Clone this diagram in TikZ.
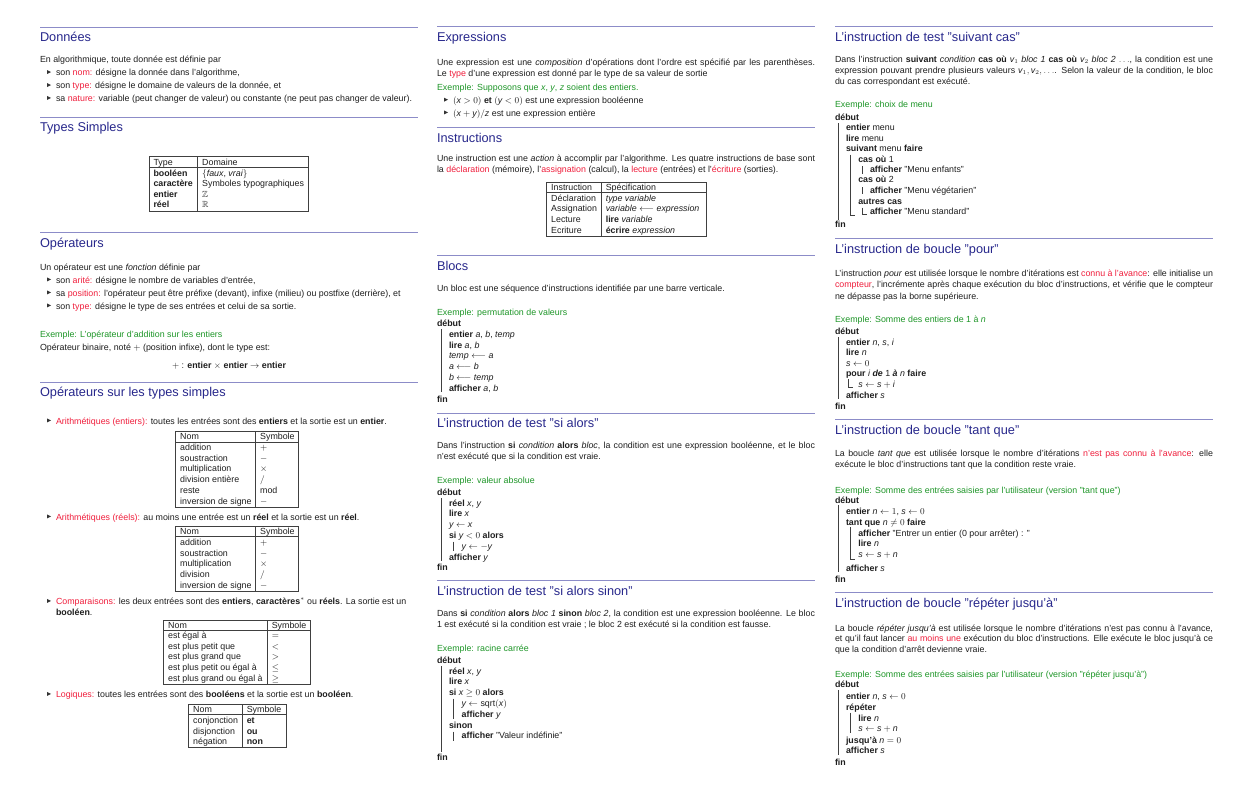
\documentclass[tikz,border=0pt]{standalone}
\usepackage{fontspec}
\setmainfont{Liberation Sans}
\usepackage{amssymb}
\definecolor{headc}{RGB}{40,40,140}
\definecolor{rulec}{RGB}{140,140,200}
\definecolor{alertc}{RGB}{240,30,60}
\definecolor{exc}{RGB}{30,150,40}
\definecolor{txtc}{RGB}{30,30,30}
\newcommand\bodyfont{\fontsize{8.85}{11}\selectfont}
\newcommand\headfont{\fontsize{12.75}{15}\selectfont}
\newcommand\redt[1]{\textcolor{alertc}{#1}}
\newcommand\vv[1]{\mbox{\itshape #1}}
\tikzset{
  txt/.style={anchor=base west, inner sep=0pt, outer sep=0pt, font=\bodyfont, text=txtc},
  hd/.style={anchor=base west, inner sep=0pt, outer sep=0pt, font=\headfont, text=headc},
  rl/.style={draw=rulec, line width=0.9pt},
  tb/.style={draw=black!75, line width=0.8pt},
  bar/.style={draw=black!75, line width=0.8pt},
  bul/.style={fill=black!80},
}
\newcommand\putline[4]{\node[txt] (#1) at (#2,#3) {#4};}
\newcommand\putex[4]{\node[txt,text=exc] (#1) at (#2,#3) {#4};}
\newcommand\putjust[4]{\node[txt] (#1) at (#2,#3) {\hbox to 378pt{#4}};}
\newcommand\puthead[4]{\draw[rl] (#2,#3) -- ++(378,0); \node[hd] (#1) at (#2,#3+14.8) {#4};}
\newcommand\putbullet[4]{\fill[bul] (#2+7,#3-5.6) -- (#2+11,#3-3.6) -- (#2+7,#3-1.6) -- cycle; \node[txt] (#1) at (#2+16,#3) {#4};}
\newcommand\puttab[6]{\draw[tb] (#1,#2) rectangle (#3,#4); \draw[tb] (#5,#2) -- (#5,#4); \draw[tb] (#1,#6) -- (#3,#6);}
\newcommand\putbar[3]{\draw[bar] (#1,#2) -- (#1,#3);}
\newcommand\putbarL[3]{\draw[bar] (#1,#2) -- (#1,#3) -- ++(5,0);}
\begin{document}
\begin{tikzpicture}[x=1pt,y=-1pt]
\useasboundingbox (0,0) rectangle (1239,787);
\fill[white] (0,0) rectangle (1239,787);

% ===================== Column 1 =====================
\puthead{h1}{40}{27}{Données}
\putline{d0}{40}{62.7}{En algorithmique, toute donnée est définie par}
\putbullet{d1}{40}{75.7}{son \redt{nom:} désigne la donnée dans l'algorithme,}
\putbullet{d2}{40}{88.6}{son \redt{type:} désigne le domaine de valeurs de la donnée, et}
\putbullet{d3}{40}{101.5}{sa \redt{nature:} variable (peut changer de valeur) ou constante (ne peut pas changer de valeur).}

\puthead{h2}{40}{117}{Types Simples}
\puttab{149}{156.7}{308.7}{211}{197.7}{167.7}
\putline{ta1}{153.5}{165.5}{Type}
\putline{ta2}{202.2}{165.5}{Domaine}
\putline{ta3}{153.5}{176.7}{\textbf{booléen}}
\putline{ta4}{202.2}{176.7}{$\{$\textit{faux}, \textit{vrai}$\}$}
\putline{ta5}{153.5}{186.9}{\textbf{caractère}}
\putline{ta6}{202.2}{186.9}{Symboles typographiques}
\putline{ta7}{153.5}{197.1}{\textbf{entier}}
\putline{ta8}{202.2}{197.1}{$\mathbb{Z}$}
\putline{ta9}{153.5}{207.3}{\textbf{réel}}
\putline{ta10}{202.2}{207.3}{$\mathbb{R}$}

\puthead{h3}{40}{232.3}{Opérateurs}
\putline{o0}{40}{270}{Un opérateur est une \textit{fonction} définie par}
\putbullet{o1}{40}{283}{son \redt{arité:} désigne le nombre de variables d'entrée,}
\putbullet{o2}{40}{296}{sa \redt{position:} l'opérateur peut être préfixe (devant), infixe (milieu) ou postfixe (derrière), et}
\putbullet{o3}{40}{309}{son \redt{type:} désigne le type de ses entrées et celui de sa sortie.}
\putex{o4}{40}{337}{Exemple: L'opérateur d'addition sur les entiers}
\putline{o5}{40}{350}{Opérateur binaire, noté $+$ (position infixe), dont le type est:}
\node[txt,anchor=base] (o6) at (229,368) {$+$ : \textbf{entier} $\times$ \textbf{entier} $\rightarrow$ \textbf{entier}};

\puthead{h4}{40}{382}{Opérateurs sur les types simples}
\putbullet{s1}{40}{424}{\redt{Arithmétiques (entiers):} toutes les entrées sont des \textbf{entiers} et la sortie est un \textbf{entier}.}
\puttab{175.7}{431}{298.7}{507.3}{255.7}{442}
\putline{tb1}{180.2}{439.5}{Nom}
\putline{tb2}{260.2}{439.5}{Symbole}
\putline{tb3}{180.2}{450.5}{addition}
\putline{tb4}{260.2}{450.5}{$+$}
\putline{tb5}{180.2}{461.2}{soustraction}
\putline{tb6}{260.2}{461.2}{$-$}
\putline{tb7}{180.2}{471.9}{multiplication}
\putline{tb8}{260.2}{471.9}{$\times$}
\putline{tb9}{180.2}{482.6}{division entière}
\putline{tb10}{260.2}{482.6}{$/$}
\putline{tb11}{180.2}{493.3}{reste}
\putline{tb12}{260.2}{493.3}{mod}
\putline{tb13}{180.2}{504}{inversion de signe}
\putline{tb14}{260.2}{504}{$-$}

\putbullet{s2}{40}{520}{\redt{Arithmétiques (réels):} au moins une entrée est un \textbf{réel} et la sortie est un \textbf{réel}.}
\puttab{175.7}{526}{298.7}{591.7}{255.7}{536.7}
\putline{tc1}{180.2}{534.3}{Nom}
\putline{tc2}{260.2}{534.3}{Symbole}
\putline{tc3}{180.2}{545.3}{addition}
\putline{tc4}{260.2}{545.3}{$+$}
\putline{tc5}{180.2}{556}{soustraction}
\putline{tc6}{260.2}{556}{$-$}
\putline{tc7}{180.2}{566.7}{multiplication}
\putline{tc8}{260.2}{566.7}{$\times$}
\putline{tc9}{180.2}{577.4}{division}
\putline{tc10}{260.2}{577.4}{$/$}
\putline{tc11}{180.2}{588.1}{inversion de signe}
\putline{tc12}{260.2}{588.1}{$-$}

\putbullet{s3}{40}{604.5}{\redt{Comparaisons:} les deux entrées sont des \textbf{entiers}, \textbf{caractères}$^*$ ou \textbf{réels}. La sortie est un}
\putline{s3b}{56}{615}{\textbf{booléen}.}
\puttab{163.7}{620}{310}{684.3}{267.3}{630}
\putline{td1}{168.2}{628}{Nom}
\putline{td2}{271.8}{628}{Symbole}
\putline{td3}{168.2}{638.5}{est égal à}
\putline{td4}{271.8}{638.5}{$=$}
\putline{td5}{168.2}{649.2}{est plus petit que}
\putline{td6}{271.8}{649.2}{$<$}
\putline{td7}{168.2}{659.9}{est plus grand que}
\putline{td8}{271.8}{659.9}{$>$}
\putline{td9}{168.2}{670.6}{est plus petit ou égal à}
\putline{td10}{271.8}{670.6}{$\leq$}
\putline{td11}{168.2}{681.3}{est plus grand ou égal à}
\putline{td12}{271.8}{681.3}{$\geq$}

\putbullet{s4}{40}{697.5}{\redt{Logiques:} toutes les entrées sont des \textbf{booléens} et la sortie est un \textbf{booléen}.}
\puttab{188.7}{704.3}{286}{747.3}{242.3}{714.3}
\putline{te1}{193.2}{712.3}{Nom}
\putline{te2}{246.8}{712.3}{Symbole}
\putline{te3}{193.2}{723.3}{conjonction}
\putline{te4}{246.8}{723.3}{\textbf{et}}
\putline{te5}{193.2}{734}{disjonction}
\putline{te6}{246.8}{734}{\textbf{ou}}
\putline{te7}{193.2}{744.7}{négation}
\putline{te8}{246.8}{744.7}{\textbf{non}}

% ===================== Column 2 =====================
\puthead{h5}{437}{26.7}{Expressions}
\putjust{e1}{437}{65.3}{Une expression est une \textit{composition} d'opérations dont l'ordre est spécifié par les parenthèses.}
\putline{e2}{437}{76}{Le \redt{type} d'une expression est donné par le type de sa valeur de sortie}
\putex{e3}{437}{90}{Exemple: Supposons que \vv{x}, \vv{y}, \vv{z} soient des entiers.}
\putbullet{e4}{437}{103.3}{$(\vv{x} > 0)$ \textbf{et} $(\vv{y} < 0)$ est une expression booléenne}
\putbullet{e5}{437}{116}{$(\vv{x} + \vv{y})/\vv{z}$ est une expression entière}

\puthead{h6}{437}{127.3}{Instructions}
\putjust{i1}{437}{161.5}{Une instruction est une \textit{action} à accomplir par l'algorithme. Les quatre instructions de base sont}
\putline{i2}{437}{172.5}{la \redt{déclaration} (mémoire), l'\redt{assignation} (calcul), la \redt{lecture} (entrées) et l'\redt{écriture} (sorties).}
\puttab{546.7}{182.3}{706}{236.7}{601.3}{192.3}
\putline{tf1}{551.2}{190}{Instruction}
\putline{tf2}{605.8}{190}{Spécification}
\putline{tf3}{551.2}{201}{Déclaration}
\putline{tf4}{605.8}{201}{\textit{type variable}}
\putline{tf5}{551.2}{211.8}{Assignation}
\putline{tf6}{605.8}{211.8}{\textit{variable} $\longleftarrow$ \textit{expression}}
\putline{tf7}{551.2}{222.6}{Lecture}
\putline{tf8}{605.8}{222.6}{\textbf{lire} \textit{variable}}
\putline{tf9}{551.2}{233.4}{Ecriture}
\putline{tf10}{605.8}{233.4}{\textbf{écrire} \textit{expression}}

\puthead{h7}{437}{255.7}{Blocs}
\putline{b1}{437}{291}{Un bloc est une séquence d'instructions identifiée par une barre verticale.}
\putex{b2}{437}{315.3}{Exemple: permutation de valeurs}
\putline{k0}{437}{326}{\textbf{début}}
\putline{k1}{449}{337.3}{\textbf{entier} \vv{a}, \vv{b}, \vv{temp}}
\putline{k2}{449}{348.1}{\textbf{lire} \vv{a}, \vv{b}}
\putline{k3}{449}{358.9}{$\vv{temp} \longleftarrow \vv{a}$}
\putline{k4}{449}{369.7}{$\vv{a} \longleftarrow \vv{b}$}
\putline{k5}{449}{380.5}{$\vv{b} \longleftarrow \vv{temp}$}
\putline{k6}{449}{391.3}{\textbf{afficher} \vv{a}, \vv{b}}
\putline{k7}{437}{402.1}{\textbf{fin}}
\putbar{441.3}{329}{392}

\puthead{h8}{437}{413}{L'instruction de test ”si alors”}
\putjust{a1}{437}{448.3}{Dans l'instruction \textbf{si} \textit{condition} \textbf{alors} \textit{bloc}, la condition est une expression booléenne, et le bloc}
\putline{a2}{437}{459}{n'est exécuté que si la condition est vraie.}
\putex{a3}{437}{483.3}{Exemple: valeur absolue}
\putline{v0}{437}{495}{\textbf{début}}
\putline{v1}{449}{506}{\textbf{réel} \vv{x}, \vv{y}}
\putline{v2}{449}{516.8}{\textbf{lire} \vv{x}}
\putline{v3}{449}{527.6}{$\vv{y} \leftarrow \vv{x}$}
\putline{v4}{449}{538.4}{\textbf{si} $\vv{y} < 0$ \textbf{alors}}
\putline{v5}{461.7}{549.2}{$\vv{y} \leftarrow -\vv{y}$}
\putline{v6}{449}{560}{\textbf{afficher} \vv{y}}
\putline{v7}{437}{570.8}{\textbf{fin}}
\putbar{441.3}{498}{561}
\putbar{453.3}{541.5}{550.5}

\puthead{h9}{437}{580.7}{L'instruction de test ”si alors sinon”}
\putjust{c1}{437}{616.6}{Dans \textbf{si} \textit{condition} \textbf{alors} \textit{bloc 1} \textbf{sinon} \textit{bloc 2}, la condition est une expression booléenne. Le bloc}
\putline{c2}{437}{627.6}{1 est exécuté si la condition est vraie ; le bloc 2 est exécuté si la condition est fausse.}
\putex{c3}{437}{651.6}{Exemple: racine carrée}
\putline{q0}{437}{663.3}{\textbf{début}}
\putline{q1}{449}{674.1}{\textbf{réel} \vv{x}, \vv{y}}
\putline{q2}{449}{684.9}{\textbf{lire} \vv{x}}
\putline{q3}{449}{695.7}{\textbf{si} $\vv{x} \geq 0$ \textbf{alors}}
\putline{q4}{461.7}{706.5}{$\vv{y} \leftarrow \mathrm{sqrt}(\vv{x})$}
\putline{q5}{461.7}{717.3}{\textbf{afficher} \vv{y}}
\putline{q6}{449}{728.1}{\textbf{sinon}}
\putline{q7}{461.7}{738.9}{\textbf{afficher} ”Valeur indéfinie”}
\putline{q8}{437}{760.5}{\textbf{fin}}
\putbar{441.3}{666}{752}
\putbar{453.3}{698.5}{718.5}
\putbar{453.3}{731.5}{740.5}

% ===================== Column 3 =====================
\puthead{h10}{835}{26.7}{L'instruction de test ”suivant cas”}
\putjust{u1}{835}{62.3}{Dans l'instruction \textbf{suivant} \textit{condition} \textbf{cas où} $\vv{v}_1$ \textit{bloc 1} \textbf{cas où} $\vv{v}_2$ \textit{bloc 2} $\ldots$, la condition est une}
\putjust{u2}{835}{73.3}{expression pouvant prendre plusieurs valeurs $\vv{v}_1, \vv{v}_2, \ldots$. Selon la valeur de la condition, le bloc}
\putline{u3}{835}{84.3}{du cas correspondant est exécuté.}
\putex{u4}{835}{107.6}{Exemple: choix de menu}
\putline{m0}{835}{120.6}{\textbf{début}}
\putline{m1}{846}{130.9}{\textbf{entier} menu}
\putline{m2}{846}{141.2}{\textbf{lire} menu}
\putline{m3}{846}{151.6}{\textbf{suivant} menu \textbf{faire}}
\putline{m4}{858.3}{162.4}{\textbf{cas où} 1}
\putline{m5}{870}{172.6}{\textbf{afficher} ”Menu enfants”}
\putline{m6}{858.3}{182.8}{\textbf{cas où} 2}
\putline{m7}{870}{193.3}{\textbf{afficher} ”Menu végétarien”}
\putline{m8}{858.3}{204}{\textbf{autres cas}}
\putline{m9}{870}{214.3}{\textbf{afficher} ”Menu standard”}
\putline{m10}{835}{227.6}{\textbf{fin}}
\putbar{838.3}{123}{219.5}
\putbarL{850}{154.5}{215}
\putbar{862.3}{166}{173.5}
\putbar{862.3}{187}{194}
\putbarL{862.3}{207.5}{214.5}

\puthead{h11}{835}{238.3}{L'instruction de boucle ”pour”}
\putjust{f1}{835}{276}{L'instruction \textit{pour} est utilisée lorsque le nombre d'itérations est \redt{connu à l'avance}: elle initialise un}
\putjust{f2}{835}{287.3}{\redt{compteur}, l'incrémente après chaque exécution du bloc d'instructions, et vérifie que le compteur}
\putline{f3}{835}{299}{ne dépasse pas la borne supérieure.}
\putex{f4}{835}{322.3}{Exemple: Somme des entiers de 1 à \textit{n}}
\putline{p0}{835}{334}{\textbf{début}}
\putline{p1}{846}{345}{\textbf{entier} \vv{n}, \vv{s}, \vv{i}}
\putline{p2}{846}{355.6}{\textbf{lire} \vv{n}}
\putline{p3}{846}{366}{$\vv{s} \leftarrow 0$}
\putline{p4}{846}{376.6}{\textbf{pour} \vv{i} \textbf{\textit{de}} 1 \textbf{\textit{à}} \vv{n} \textbf{faire}}
\putline{p5}{858.3}{387}{$\vv{s} \leftarrow \vv{s} + \vv{i}$}
\putline{p6}{846}{398.3}{\textbf{afficher} \vv{s}}
\putline{p7}{835}{409.3}{\textbf{fin}}
\putbar{838.3}{337}{399}
\putbarL{848}{379}{387}

\puthead{h12}{835}{419.3}{L'instruction de boucle ”tant que”}
\putjust{g1}{835}{456.6}{La boucle \textit{tant que} est utilisée lorsque le nombre d'itérations \redt{n'est pas connu à l'avance}: elle}
\putline{g2}{835}{467.3}{exécute le bloc d'instructions tant que la condition reste vraie.}
\putex{g3}{835}{493.3}{Exemple: Somme des entrées saisies par l'utilisateur (version ”tant que”)}
\putline{w0}{835}{503.3}{\textbf{début}}
\putline{w1}{846}{514.3}{\textbf{entier} $\vv{n} \leftarrow 1$, $\vv{s} \leftarrow 0$}
\putline{w2}{846}{525.3}{\textbf{tant que} $\vv{n} \neq 0$ \textbf{faire}}
\putline{w3}{858.3}{536}{\textbf{afficher} ”Entrer un entier (0 pour arrêter) : ”}
\putline{w4}{858.3}{546.6}{\textbf{lire} \vv{n}}
\putline{w5}{858.3}{557.6}{$\vv{s} \leftarrow \vv{s} + \vv{n}$}
\putline{w6}{846}{571}{\textbf{afficher} \vv{s}}
\putline{w7}{835}{582.6}{\textbf{fin}}
\putbar{838.3}{505}{572}
\putbarL{850}{527}{559.5}

\puthead{h13}{835}{592.3}{L'instruction de boucle ”répéter jusqu'à”}
\putjust{j1}{835}{631.6}{La boucle \textit{répéter jusqu'à} est utilisée lorsque le nombre d'itérations n'est pas connu à l'avance,}
\putjust{j2}{835}{641.6}{et qu'il faut lancer \redt{au moins une} exécution du bloc d'instructions. Elle exécute le bloc jusqu'à ce}
\putline{j3}{835}{652.3}{que la condition d'arrêt devienne vraie.}
\putex{j4}{835}{677.6}{Exemple: Somme des entrées saisies par l'utilisateur (version ”répéter jusqu'à”)}
\putline{r0}{835}{687.6}{\textbf{début}}
\putline{r1}{846}{699.3}{\textbf{entier} \vv{n}, $\vv{s} \leftarrow 0$}
\putline{r2}{846}{710}{\textbf{répéter}}
\putline{r3}{858.3}{721}{\textbf{lire} \vv{n}}
\putline{r4}{858.3}{731.6}{$\vv{s} \leftarrow \vv{s} + \vv{n}$}
\putline{r5}{846}{743.3}{\textbf{jusqu'à} $\vv{n} = 0$}
\putline{r6}{846}{753.6}{\textbf{afficher} \vv{s}}
\putline{r7}{835}{765}{\textbf{fin}}
\putbar{838.3}{690}{755}
\putbar{850}{712.7}{733}
\end{tikzpicture}
\end{document}
